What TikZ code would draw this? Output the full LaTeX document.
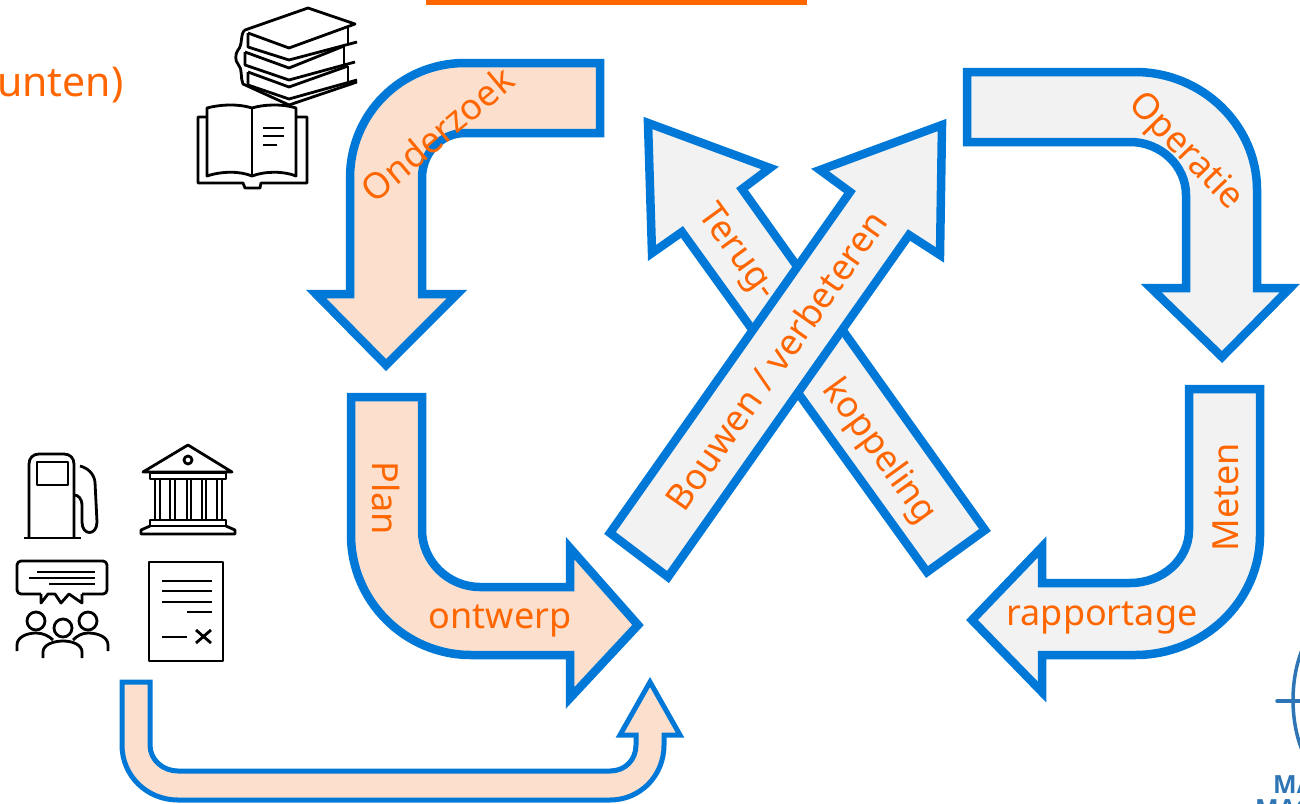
\documentclass[tikz,border=0pt]{standalone}
\usepackage{fontspec}
\setmainfont{Noto Sans}
\newfontfamily\logofont{Open Sans}
\definecolor{arrowblue}{RGB}{0,120,215}
\definecolor{peach}{RGB}{252,224,205}
\definecolor{lightgrey}{RGB}{242,242,242}
\definecolor{labelorange}{RGB}{255,102,0}
\definecolor{logoblue}{RGB}{46,117,182}
\tikzset{
    bigarrow/.style={draw=arrowblue,line width=8.5pt,miter limit=10},
    smallarrow/.style={draw=arrowblue,line width=5pt,fill=peach,miter limit=10},
    arrowtext/.style={text=labelorange,font=\fontsize{36}{42}\selectfont,inner sep=0pt},
    logotext/.style={anchor=base west,inner sep=0pt,text=logoblue,font=\logofont\fontsize{25}{25}\bfseries\selectfont},
    icon/.style={draw=black,line width=2.8pt,line join=round},
}
\begin{document}
\begin{tikzpicture}[x=1pt,y=-1pt]
    \useasboundingbox (0,0) rectangle (1300,803);
    \fill [labelorange] (426,0) rectangle (807,5);
    \node [arrowtext,anchor=base west,font=\fontsize{41}{46}\selectfont] (punten) at (-3,96) {unten)};
    \node [arrowtext,anchor=base east,text=blue!50!black] (cutoff) at (3,218) {n};

    \draw [bigarrow,fill=peach] (600,63) -- (465,63) .. controls (401,63) and (350,114) .. (350,178)
        -- (350,294) -- (316,294) -- (386,365) -- (457,294) -- (422,294) -- (422,178)
        .. controls (422,153) and (441,133) .. (465,133) -- (600,133) -- cycle;
    \draw [bigarrow,fill=peach] (351,397) -- (351,535) .. controls (351,601) and (405,655) .. (471,655)
        -- (570,655) -- (570,698) -- (638,625) -- (570,548) -- (570,587) -- (480,587)
        .. controls (448,587) and (422,561) .. (422,530) -- (422,397) -- cycle;
    \draw [bigarrow,fill=lightgrey] (967,72) -- (1135,72) .. controls (1202,72) and (1257,125) .. (1257,190)
        -- (1257,288) -- (1290,288) -- (1222,357) -- (1151,288) -- (1186,288) -- (1186,195)
        .. controls (1186,166) and (1161,142) .. (1130,142) -- (967,142) -- cycle;
    \draw [bigarrow,fill=lightgrey] (1189,389) -- (1260,389) -- (1260,535) .. controls (1260,601) and (1204,655) .. (1135,655)
        -- (1042,655) -- (1042,692) -- (972,620) -- (1042,547) -- (1042,583) -- (1130,583)
        .. controls (1163,583) and (1189,559) .. (1189,530) -- cycle;
    \draw [bigarrow,fill=lightgrey] (927,572) -- (682,232) -- (652,253) -- (648,123) -- (770,168) -- (742,189) -- (985,530) -- cycle;
    \draw [bigarrow,fill=lightgrey] (610,533) -- (850,192) -- (820,170) -- (942,125) -- (940,255) -- (909,235) -- (668,577) -- cycle;
    \draw [smallarrow] (122,682) -- (122,745) .. controls (122,776) and (147,800) .. (178,800)
        -- (610,800) .. controls (640,800) and (664,776) .. (664,745) -- (664,735) -- (680,735) -- (650,682)
        -- (620,735) -- (636,735) -- (636,745) .. controls (636,760) and (625,771) .. (610,771)
        -- (178,771) .. controls (163,771) and (150,760) .. (150,745) -- (150,682) -- cycle;

    \node [arrowtext,rotate=40] (onderzoek) at (437,134) {Onderzoek};
    \node [arrowtext,rotate=-90] (plan) at (386,498) {Plan};
    \node [arrowtext] (ontwerp) at (500,621) {ontwerp};
    \node [arrowtext,rotate=-46] (operatie) at (1185,152) {Operatie};
    \node [arrowtext,rotate=90] (meten) at (1226,497) {Meten};
    \node [arrowtext] (rapportage) at (1102,618) {rapportage};
    \node [arrowtext,rotate=-54] (terug) at (736,253) {Terug-};
    \node [arrowtext,rotate=-54] (koppeling) at (879,452) {koppeling};
    \node [arrowtext,rotate=55] (bouwen) at (776,360) {Bouwen / verbeteren};

    % books
    \draw [icon] (248,33) -- (289,48) -- (355,24) -- (308,8) -- (245,30)
        .. controls (240,33) and (243,45) .. (238,50) .. controls (235,54) and (235,61) .. (238,64)
        .. controls (243,69) and (240,78) .. (243,84) -- (289,105) -- (357,82);
    \draw [icon] (248,33) -- (248,47) -- (289,60) -- (357,42);
    \draw [icon] (245,52) -- (289,68) -- (344,46);
    \draw [icon] (245,52) -- (245,65) -- (289,80) -- (355,62);
    \draw [icon] (248,72) -- (289,87) -- (348,66);
    \draw [icon] (248,72) -- (248,85) -- (289,99) -- (357,80);
    \draw [icon] (348,27) -- (348,44) (344,46) -- (344,64) (348,66) -- (348,83);
    \draw [icon,fill=white] (207,117) -- (198,117) -- (198,183) -- (243,183) -- (245,188) -- (260,188) -- (261,183) -- (307,183) -- (307,117) -- (296,117);
    \draw [icon,fill=white] (207,176) -- (207,108) .. controls (222,104) and (240,104) .. (252,108)
        .. controls (265,104) and (284,104) .. (296,108) -- (296,176)
        .. controls (284,171) and (265,171) .. (252,176) .. controls (240,171) and (222,171) .. (207,176) -- cycle;
    \draw [icon] (252,108) -- (252,176);
    \draw [icon] (263,128) -- (284,128) (263,136) -- (284,136) (263,145) -- (277,145);

    % pump
    \draw [icon] (29,537) -- (29,464) .. controls (29,458) and (33,454) .. (39,454) -- (64,454)
        .. controls (70,454) and (74,458) .. (74,464) -- (74,537);
    \draw [icon] (24,538) -- (81,538);
    \draw [icon] (37,462) rectangle (68,485);
    \draw [icon] (80,466) .. controls (88,468) and (94,474) .. (95,482) -- (97,522)
        .. controls (97,536) and (82,536) .. (82,522) -- (82,506) .. controls (82,498) and (78,495) .. (74,495);

    % bank
    \draw [icon] (188,445) -- (143,472) -- (232,472) -- cycle;
    \draw [icon] (188,460) circle [radius=4pt];
    \draw [icon] (150,473) rectangle (226,479);
    \foreach \colx in {155,160,170,175,187,191,202,206,217,222}{
        \draw [icon] (\colx,479) -- (\colx,520);
    }
    \draw [icon] (150,520) rectangle (226,526);
    \draw [icon] (150,526) -- (141,530) -- (141,534) -- (235,534) -- (235,530) -- (226,526);

    % meeting
    \draw [icon,rounded corners=4pt] (41,594) -- (17,594) -- (17,561) -- (107,561) -- (107,594) -- (82,594);
    \draw [icon] (41,594) -- (41,603) -- (48,594) -- (55,594) -- (61,603) -- (69,594) -- (82,603) -- (82,594);
    \draw [icon] (37,572) -- (95,572) (29,578) -- (95,578) (49,584) -- (95,584);
    \draw [icon] (36,621) circle [radius=9pt];
    \draw [icon] (88,621) circle [radius=9pt];
    \draw [icon] (63,628) circle [radius=9pt];
    \draw [icon] (17,651) -- (17,645) .. controls (17,637) and (27,633) .. (36,633) .. controls (43,633) and (49,636) .. (53,640);
    \draw [icon] (108,651) -- (108,645) .. controls (108,637) and (98,633) .. (88,633) .. controls (82,633) and (77,636) .. (73,640);
    \draw [icon] (43,658) -- (43,652) .. controls (43,645) and (53,641) .. (63,641) .. controls (73,641) and (82,645) .. (82,652) -- (82,658);

    % document
    \draw [icon] (149,562) rectangle (223,661);
    \foreach \liney in {581,591,602}{
        \draw [icon] (162,\liney) -- (212,\liney);
    }
    \draw [icon] (187,612) -- (212,612);
    \draw [icon] (162,637) -- (187,637);
    \draw [icon] (196,630) -- (211,643) (211,630) -- (196,643);

    % logo
    \draw [logoblue,line width=3.5pt] (1302,650) .. controls (1290,680) and (1290,720) .. (1302,750);
    \draw [logoblue,line width=3.5pt,line cap=round] (1277,701) -- (1302,701);
    \node [logotext] (logotop) at (1273,793) {MA};
    \node [logotext] (logobottom) at (1255,817) {MAG};
\end{tikzpicture}
\end{document}
